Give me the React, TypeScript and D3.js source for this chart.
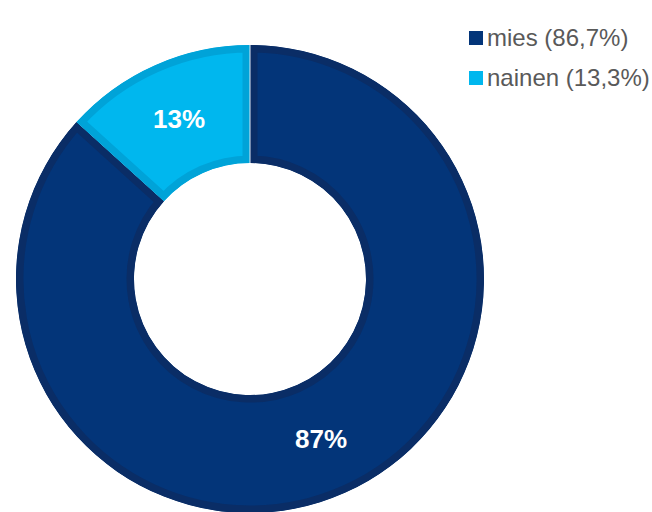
import { useEffect, useRef } from "react";
import * as d3 from "d3";

const LABELS = ["mies", "nainen"];
const VALUES = [86.7, 13.3];
const FILLS = ["#033579", "#00b7ee"];
const EDGES = ["#0a2d66", "#00a3d8"];

const W = 652;
const H = 512;
const CX = 250;
const CY = 279;
const R_OUT = 234;
const R_IN = 116;

export default function App() {
  const svgRef = useRef<SVGSVGElement>(null);

  useEffect(() => {
    if (!svgRef.current) return;
    const svg = d3.select(svgRef.current);
    svg.selectAll("*").remove();

    const data = LABELS.map((label, i) => ({ label, value: VALUES[i], i }));
    const pie = d3
      .pie<(typeof data)[0]>()
      .value((d) => d.value)
      .sort(null);
    const arcs = pie(data);

    const arc = d3
      .arc<d3.PieArcDatum<(typeof data)[0]>>()
      .innerRadius(R_IN)
      .outerRadius(R_OUT);

    const defs = svg.append("defs");
    const g = svg.append("g").attr("transform", `translate(${CX},${CY})`);

    // slices: fill plus a darker inner rim (stroke clipped to the slice)
    arcs.forEach((a, i) => {
      defs
        .append("clipPath")
        .attr("id", `clip-${i}`)
        .append("path")
        .attr("d", arc(a));
      g.append("path")
        .attr("d", arc(a))
        .attr("fill", FILLS[i])
        .attr("stroke", EDGES[i])
        .attr("stroke-width", 15)
        .attr("clip-path", `url(#clip-${i})`);
    });

    // thin light separator at the top (start of first slice)
    const ang = arcs[0].startAngle;
    g.append("line")
      .attr("x1", R_IN * Math.sin(ang))
      .attr("y1", -R_IN * Math.cos(ang))
      .attr("x2", R_OUT * Math.sin(ang))
      .attr("y2", -R_OUT * Math.cos(ang))
      .attr("stroke", "#dfe8f3")
      .attr("stroke-width", 1);

    // percentage labels
    arcs.forEach((a) => {
      const [x, y] = arc.centroid(a);
      g.append("text")
        .attr("x", x)
        .attr("y", y)
        .attr("dy", "0.36em")
        .attr("text-anchor", "middle")
        .attr("fill", "#ffffff")
        .attr("font-family", "Liberation Sans, Arial, sans-serif")
        .attr("font-weight", "bold")
        .attr("font-size", "26px")
        .text(`${Math.round(a.data.value)}%`);
    });

    // legend
    const legend = svg.append("g").attr("transform", "translate(469,31)");
    data.forEach((d, i) => {
      const row = legend.append("g").attr("transform", `translate(0,${i * 40})`);
      row.append("rect").attr("width", 14).attr("height", 14).attr("fill", FILLS[i]);
      row
        .append("text")
        .attr("x", 18)
        .attr("y", 15)
        .attr("fill", "#595959")
        .attr("font-family", "Liberation Sans, Arial, sans-serif")
        .attr("font-size", "24px")
        .text(`${d.label} (${d.value.toFixed(1).replace(".", ",")}%)`);
    });
  }, []);

  return (
    <div style={{ position: "fixed", left: 0, top: 0, width: W, height: H, background: "#fff" }}>
      <svg ref={svgRef} width={W} height={H} />
    </div>
  );
}
